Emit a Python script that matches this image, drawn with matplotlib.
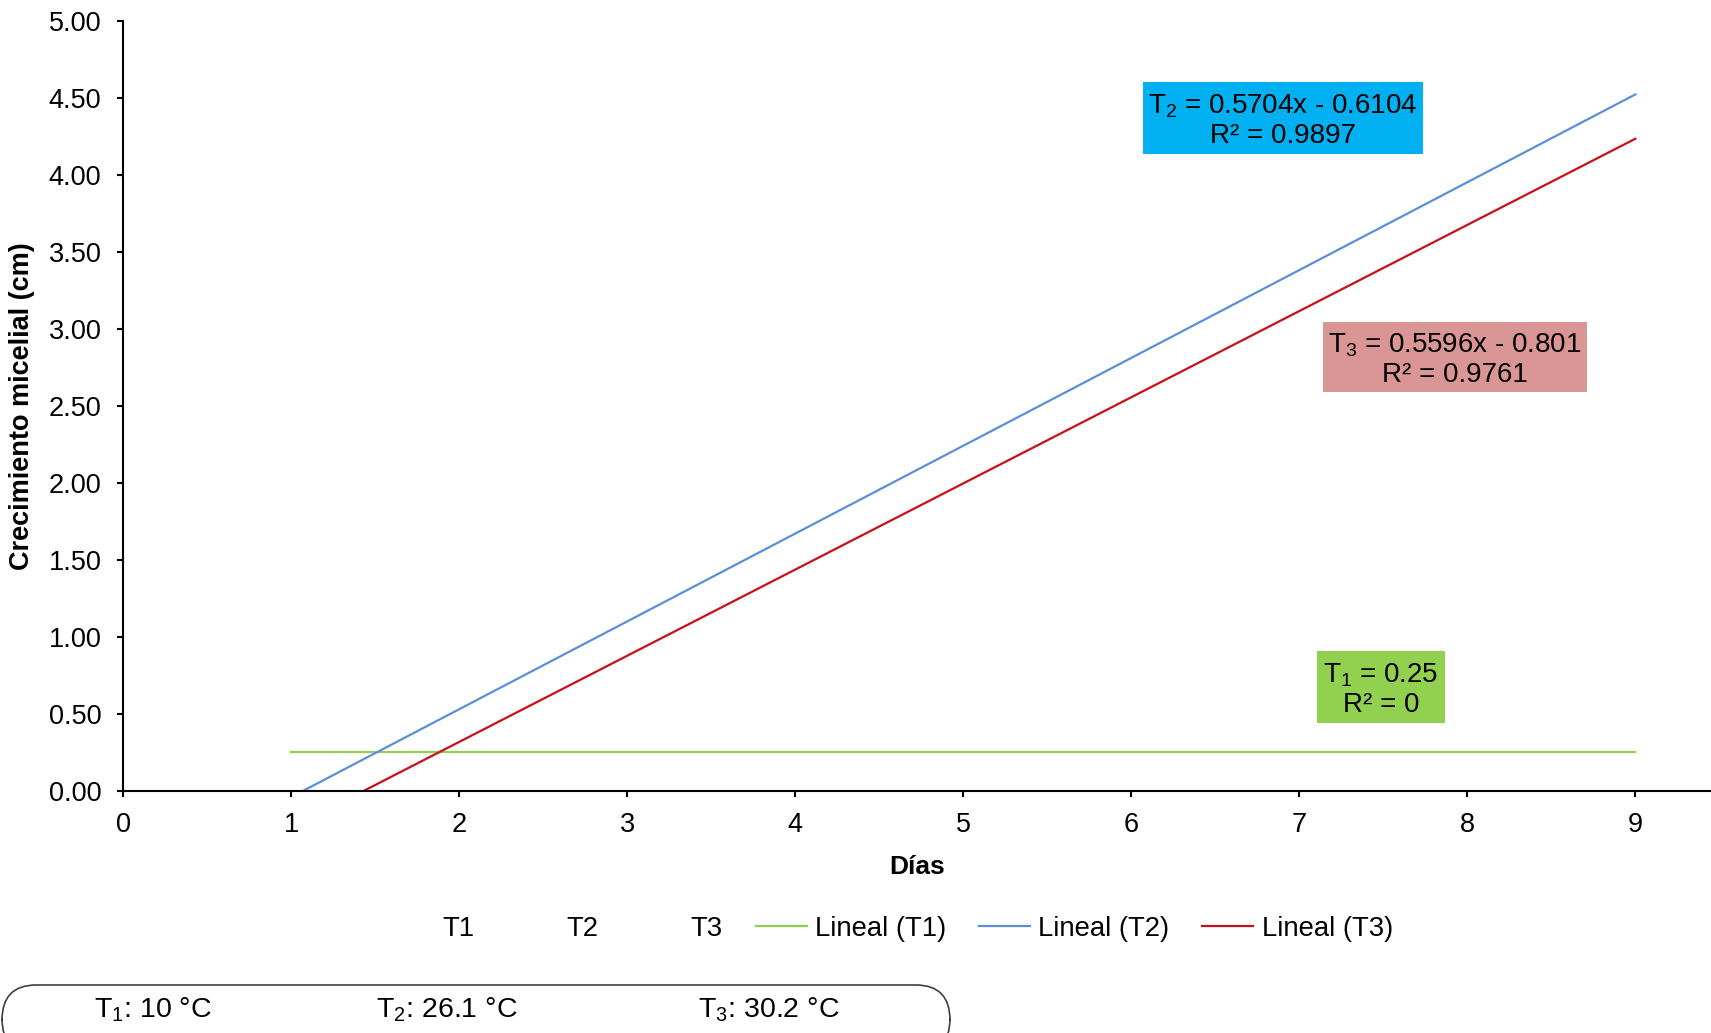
import matplotlib
matplotlib.use("Agg")
import matplotlib.pyplot as plt
import numpy as np
from matplotlib.lines import Line2D
from matplotlib.patches import Rectangle, FancyBboxPatch

plt.rcParams['font.family'] = ['Liberation Sans', 'DejaVu Sans']
plt.rcParams['mathtext.fontset'] = 'custom'
plt.rcParams['mathtext.rm'] = 'Liberation Sans'
plt.rcParams['mathtext.it'] = 'Liberation Sans'

# linear trendlines (coefficients)
series = ['T1', 'T2', 'T3']
slopes = [0.0, 0.5704, 0.5596]
intercepts = [0.25, -0.6104, -0.801]
r2 = ['0', '0.9897', '0.9761']
days = [1, 9]
colors = ['#92D050', '#5B8FD6', '#C8101A']
box_colors = ['#92D050', '#00B0F0', '#DA9694']
temps = ['10 °C', '26.1 °C', '30.2 °C']

fig = plt.figure(figsize=(17.11, 10.33), dpi=100)
ax = fig.add_axes([0.0719, 0.2343, 0.9281, 0.7454])

for s, m, b, c in zip(series, slopes, intercepts, colors):
    x = np.array(days, dtype=float)
    ax.plot(x, m * x + b, color=c, lw=1.6, label=f'Lineal ({s})')

ax.set_xlim(0, 9.45)
ax.set_ylim(0, 5)
ax.set_xticks(range(0, 10))
ax.set_yticks(np.arange(0, 5.01, 0.5))
ax.set_yticklabels([f'{v:.2f}' for v in np.arange(0, 5.01, 0.5)])
for sp in ['top', 'right']:
    ax.spines[sp].set_visible(False)
for sp in ['left', 'bottom']:
    ax.spines[sp].set_linewidth(1.5)
ax.tick_params(axis='both', direction='out', length=4.5, width=1.5, labelsize=19.5)
ax.tick_params(axis='y', pad=11)
ax.tick_params(axis='x', pad=11)
ax.set_xlabel('Días', fontsize=19, fontweight='bold', labelpad=12)
ax.set_ylabel('Crecimiento micelial (cm)', fontsize=19.5, fontweight='bold', labelpad=10)

# equation boxes (figure fractions)
W, H = 1711.0, 1033.0
boxes = [(1317, 651, 1445, 723), (1143, 82, 1423, 154), (1323, 322, 1587, 392)]
for i, (x0, y0, x1, y1) in enumerate(boxes):
    fig.patches.append(Rectangle((x0 / W, 1 - y1 / H), (x1 - x0) / W, (y1 - y0) / H,
                                 transform=fig.transFigure, facecolor=box_colors[i],
                                 edgecolor='none', zorder=3))
    m, b = slopes[i], intercepts[i]
    if m == 0:
        eq = f'T$_{i + 1}$ = {b:g}'
    else:
        eq = f'T$_{i + 1}$ = {m:g}x - {abs(b):g}'
    fig.text((x0 + x1) / 2 / W, 1 - ((y0 + y1) / 2 + 3) / H, eq + f'\nR² = {r2[i]}',
             ha='center', va='center', fontsize=20, linespacing=1.13, zorder=4)

# legend
handles = [Line2D([], [], linestyle='none') for _ in series]
handles += ax.get_lines()
labels = series + [f'Lineal ({s})' for s in series]
fig.legend(handles, labels, loc='center', bbox_to_anchor=(0.519, 0.1007), ncol=6,
           frameon=False, fontsize=19.8, handlelength=1.85, handletextpad=0.3,
           columnspacing=1.2)

# temperature box
fig.patches.append(FancyBboxPatch((2 / W, -0.02), 948 / W, (1033 - 985) / H + 0.02,
                                  boxstyle='round,pad=0,rounding_size=0.02',
                                  transform=fig.transFigure, facecolor='none',
                                  edgecolor='#404040', lw=1.2, mutation_aspect=1.7))
for i, (t, xp) in enumerate(zip(temps, [153, 447, 769])):
    fig.text(xp / W, 1 - 1010 / H, f'T$_{i + 1}$: {t}', ha='center', va='center', fontsize=20.5)

fig.savefig('out.png', dpi=100)
